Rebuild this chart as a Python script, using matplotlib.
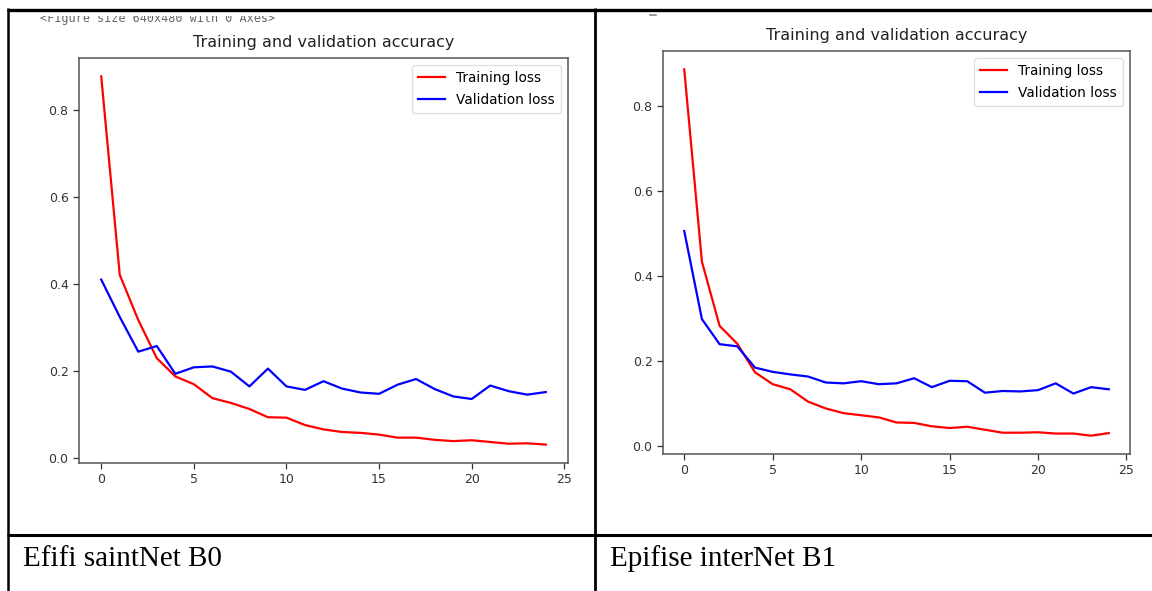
import matplotlib
matplotlib.use("Agg")
import matplotlib.pyplot as plt
from matplotlib.lines import Line2D
from matplotlib.patches import Rectangle

epochs = list(range(25))

b0_train = [0.878, 0.421, 0.317, 0.229, 0.187, 0.169, 0.137, 0.126, 0.112, 0.093,
            0.092, 0.075, 0.065, 0.059, 0.057, 0.053, 0.046, 0.046, 0.041, 0.038,
            0.040, 0.036, 0.032, 0.033, 0.030]
b0_val = [0.410, 0.324, 0.244, 0.257, 0.193, 0.208, 0.210, 0.198, 0.164, 0.205,
          0.164, 0.156, 0.176, 0.159, 0.150, 0.147, 0.168, 0.181, 0.158, 0.141,
          0.135, 0.166, 0.153, 0.145, 0.151]

b1_train = [0.886, 0.434, 0.283, 0.241, 0.174, 0.146, 0.134, 0.105, 0.089, 0.078,
            0.073, 0.068, 0.056, 0.055, 0.047, 0.043, 0.046, 0.039, 0.032, 0.032,
            0.033, 0.030, 0.030, 0.025, 0.031]
b1_val = [0.506, 0.299, 0.240, 0.235, 0.185, 0.175, 0.169, 0.164, 0.150, 0.148,
          0.153, 0.146, 0.148, 0.160, 0.139, 0.154, 0.153, 0.126, 0.130, 0.129,
          0.132, 0.148, 0.124, 0.139, 0.134]

title = "Training and validation accuracy"
legend_labels = ["Training loss", "Validation loss"]
captions = ["Efifi saintNet B0", "Epifise interNet B1"]
console_text = "<Figure size 640x480 with 0 Axes>"

W, H = 1152, 591
fig = plt.figure(figsize=(W / 100, H / 100), dpi=100)
fig.patch.set_facecolor("white")


def px_axes(x0, x1, ytop, ybot):
    return fig.add_axes([x0 / W, (H - ybot) / H, (x1 - x0) / W, (ybot - ytop) / H])


def draw_chart(ax, train, val):
    ax.plot(epochs, train, color="red", lw=1.6, label=legend_labels[0])
    ax.plot(epochs, val, color="blue", lw=1.6, label=legend_labels[1])
    ax.set_title(title, fontsize=11.5, color="#222222", pad=8)
    ax.set_xticks([0, 5, 10, 15, 20, 25])
    ax.set_yticks([0.0, 0.2, 0.4, 0.6, 0.8])
    ax.tick_params(labelsize=9, colors="#333333", length=4, width=0.9)
    for s in ax.spines.values():
        s.set_color("#555555")
        s.set_linewidth(1.1)
    ax.legend(loc="upper right", fontsize=9.8, frameon=True, fancybox=True,
              framealpha=0.9, edgecolor="#dddddd", labelspacing=0.6,
              handlelength=2.0, borderpad=0.45)


ax1 = px_axes(79, 568, 58, 463)
draw_chart(ax1, b0_train, b0_val)
ax2 = px_axes(663, 1130, 51, 454)
draw_chart(ax2, b1_train, b1_val)

# console remnant text (clipped at the top of the cell)
fig.text(40 / W, 1 - 22 / H, console_text, family="DejaVu Sans Mono", fontsize=8.5,
         color="#666666", va="baseline", ha="left")
fig.add_artist(Rectangle((0, 1 - 15.5 / H), 1, 15.5 / H, transform=fig.transFigure,
                         facecolor="white", edgecolor="none", zorder=5))
fig.add_artist(Line2D([650 / W, 656 / W], [1 - 14.5 / H, 1 - 14.5 / H],
                      transform=fig.transFigure, color="#888888", lw=1.2, zorder=6))

# table borders
def hline(y, x0, x1, lw):
    fig.add_artist(Line2D([x0 / W, x1 / W], [1 - y / H, 1 - y / H],
                          transform=fig.transFigure, color="black", lw=lw, zorder=10,
                          solid_capstyle="butt"))


def vline(x, y0, y1, lw):
    fig.add_artist(Line2D([x / W, x / W], [1 - y0 / H, 1 - y1 / H],
                          transform=fig.transFigure, color="black", lw=lw, zorder=10,
                          solid_capstyle="butt"))


hline(9.5, 7, W, 2.4)
hline(534.5, 7, W, 2.2)
vline(8, 8, H, 1.8)
vline(594.5, 8, H, 2.0)

# captions
fig.text(23 / W, 1 - 566 / H, captions[0], family="Liberation Serif", fontsize=21,
         color="black", va="baseline", ha="left")
fig.text(610 / W, 1 - 566 / H, captions[1], family="Liberation Serif", fontsize=21,
         color="black", va="baseline", ha="left")

fig.savefig("out.png", dpi=100, facecolor="white")
